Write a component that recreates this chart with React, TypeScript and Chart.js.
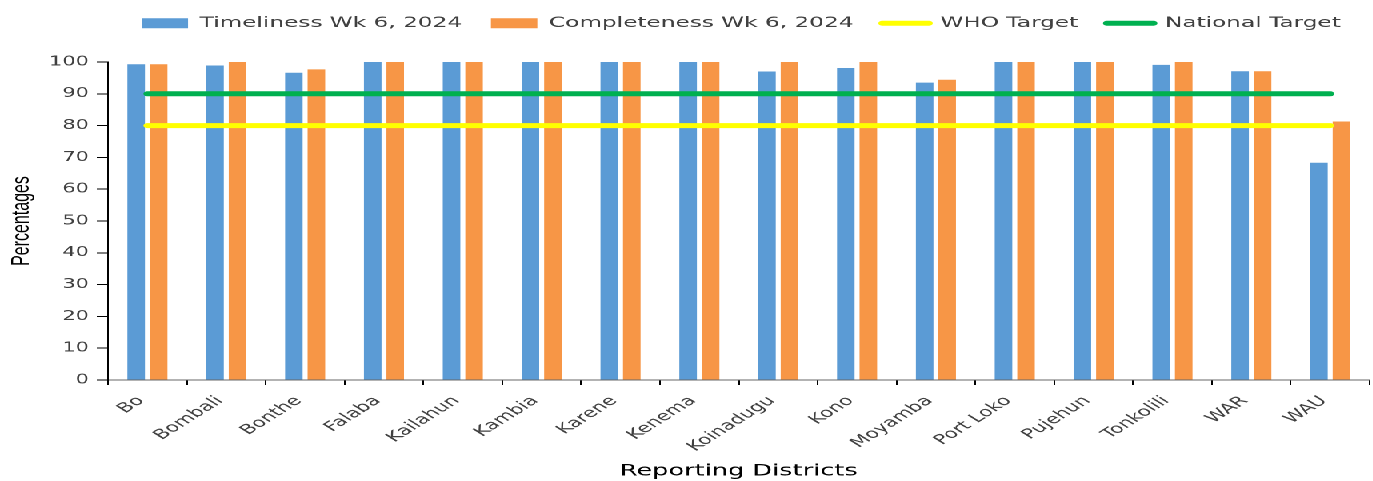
import React, { useEffect, useRef } from "react";
import { Chart, registerables } from "chart.js";

Chart.register(...registerables);

const districts = [
  "Bo", "Bombali", "Bonthe", "Falaba", "Kailahun", "Kambia", "Karene", "Kenema",
  "Koinadugu", "Kono", "Moyamba", "Port Loko", "Pujehun", "Tonkolili", "WAR", "WAU",
];
const timeliness = [99.3, 98.9, 96.6, 100, 100, 100, 100, 100, 97.0, 98.1, 93.5, 100, 100, 99.1, 97.1, 68.3];
const completeness = [99.3, 100, 97.7, 100, 100, 100, 100, 100, 100, 100, 94.4, 100, 100, 100, 97.1, 81.3];
const whoTarget = [80, 80, 80, 80, 80, 80, 80, 80, 80, 80, 80, 80, 80, 80, 80, 80];
const nationalTarget = [90, 90, 90, 90, 90, 90, 90, 90, 90, 90, 90, 90, 90, 90, 90, 90];

const seriesNames = ["Timeliness Wk 6, 2024", "Completeness Wk 6, 2024", "WHO Target", "National Target"];

const STRETCH = 1.6;
const W = Math.round(1373 / STRETCH);
const H = 481;

export default function App() {
  const ref = useRef<HTMLCanvasElement | null>(null);

  useEffect(() => {
    if (!ref.current) return;
    const legendHeight = {
      id: "legendHeight",
      beforeInit(chart: any) {
        const orig = chart.legend.fit;
        chart.legend.fit = function fit() {
          orig.bind(chart.legend)();
          this.height = 64;
        };
      },
    };
    const chart = new Chart(ref.current, {
      type: "bar",
      data: {
        labels: districts,
        datasets: [
          {
            type: "bar",
            label: seriesNames[0],
            data: timeliness,
            backgroundColor: "#5B9BD5",
            categoryPercentage: 0.571,
            barPercentage: 0.78,
            order: 2,
          },
          {
            type: "bar",
            label: seriesNames[1],
            data: completeness,
            backgroundColor: "#F79646",
            categoryPercentage: 0.571,
            barPercentage: 0.78,
            order: 2,
          },
          {
            type: "line",
            label: seriesNames[2],
            data: whoTarget,
            borderColor: "#FFFF00",
            backgroundColor: "#FFFF00",
            borderWidth: 5,
            borderCapStyle: "round",
            pointRadius: 0,
            fill: false,
            order: 1,
          },
          {
            type: "line",
            label: seriesNames[3],
            data: nationalTarget,
            borderColor: "#00B050",
            backgroundColor: "#00B050",
            borderWidth: 5,
            borderCapStyle: "round",
            pointRadius: 0,
            fill: false,
            order: 0,
          },
        ] as any,
      },
      options: {
        responsive: false,
        devicePixelRatio: 2,
        animation: false,
        layout: { padding: { top: -2, left: 0, right: 2, bottom: 0 } },
        plugins: {
          tooltip: { enabled: false },
          legend: {
            position: "top",
            align: "end",
            labels: {
              font: { family: "DejaVu Sans", size: 14.5 },
              color: "#404040",
              boxWidth: 29,
              boxHeight: 10,
              padding: 18,
              usePointStyle: true,
              pointStyleWidth: 29,
              sort: (a: any, b: any) => a.datasetIndex - b.datasetIndex,
              generateLabels: (c: any) => {
                const items = (Chart.defaults.plugins.legend.labels as any).generateLabels(c);
                return items.map((it: any) => {
                  const ds: any = c.data.datasets[it.datasetIndex];
                  return ds.type === "line"
                    ? { ...it, pointStyle: "line", lineWidth: 5, lineCap: "round", strokeStyle: ds.borderColor }
                    : { ...it, pointStyle: "rect", lineWidth: 0 };
                });
              },
            },
          },
        },
        scales: {
          x: {
            offset: true,
            grid: {
              display: true,
              offset: true,
              drawOnChartArea: false,
              drawTicks: true,
              tickLength: 5,
              color: "#000",
              lineWidth: 1,
            },
            border: { display: true, color: "#666", width: 1 },
            ticks: {
              maxRotation: 45,
              minRotation: 45,
              autoSkip: false,
              font: { family: "DejaVu Sans", size: 13.5 },
              color: "#404040",
              padding: 8,
              labelOffset: -4,
            },
            title: {
              display: true,
              text: "Reporting Districts",
              font: { family: "DejaVu Sans", size: 16 },
              color: "#000",
              padding: { top: 0, bottom: 0 },
            },
            afterFit: (scale: any) => {
              scale.height = 101;
            },
          },
          y: {
            min: 0,
            max: 100,
            ticks: {
              stepSize: 10,
              font: { family: "DejaVu Sans", size: 13 },
              color: "#404040",
              padding: 5,
            },
            grid: {
              drawOnChartArea: false,
              drawTicks: true,
              tickLength: 7,
              color: "#000",
            },
            border: { display: true, color: "#000", width: 1 },
            title: {
              display: true,
              text: "Percentages",
              font: { family: "Liberation Sans", size: 16 },
              color: "#000",
              padding: { top: 4, bottom: 0 },
            },
            afterFit: (scale: any) => {
              scale.width = 67.5;
            },
          },
        },
      } as any,
      plugins: [legendHeight],
    });
    return () => chart.destroy();
  }, []);

  return (
    <div
      style={{
        position: "absolute",
        left: 0,
        top: 0,
        width: W,
        height: H,
        transform: `scaleX(${STRETCH})`,
        transformOrigin: "0 0",
        background: "#fff",
      }}
    >
      <canvas ref={ref} width={W} height={H} style={{ width: `${W}px`, height: `${H}px`, display: "block" }} />
    </div>
  );
}
